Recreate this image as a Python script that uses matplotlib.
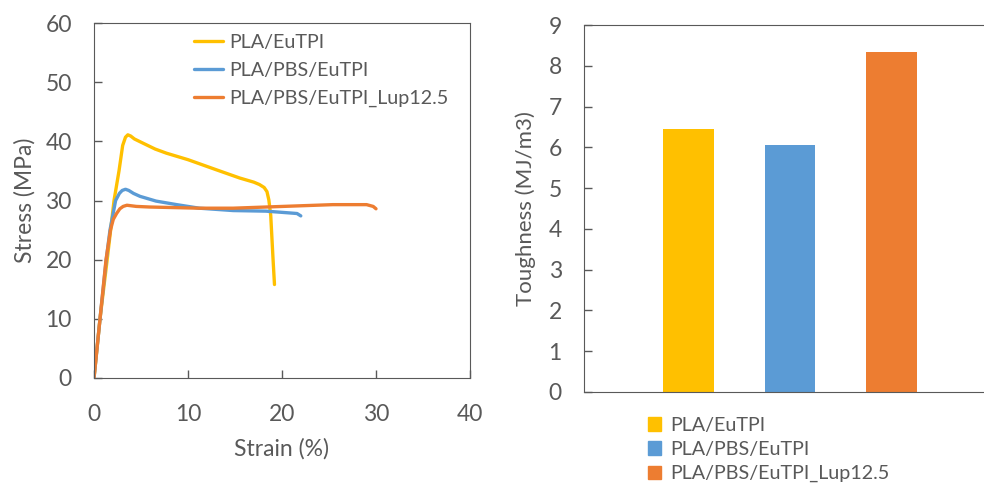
import numpy as np
import matplotlib
matplotlib.use("Agg")
import matplotlib.pyplot as plt
from matplotlib.patches import Patch

# Curvas tensão-deformação (leitura dos ensaios de tração)
strain_eutpi = [0, 0.64, 1.4, 1.77, 2.13, 2.66, 3.05, 3.35, 3.6, 3.9, 4.3, 5.2, 6.5, 7.7, 10.0, 13.0, 15.5, 17.0, 17.6, 18.1, 18.4, 18.6, 18.8, 18.9, 19.05, 19.2]
stress_eutpi = [0, 10, 20, 25, 30, 35, 39.3, 40.7, 41.1, 40.9, 40.4, 39.7, 38.7, 38.0, 36.9, 35.2, 33.8, 33.1, 32.7, 32.2, 31.5, 30.1, 27.5, 24.5, 20.0, 15.8]

strain_pbs = [0, 0.64, 1.3, 1.7, 2.3, 2.7, 3.0, 3.35, 3.7, 4.2, 4.9, 6.6, 8.8, 11.2, 14.8, 18.3, 20.8, 21.6, 22.0]
stress_pbs = [0, 10, 20, 25, 30, 31.2, 31.7, 31.9, 31.7, 31.2, 30.7, 29.9, 29.3, 28.7, 28.3, 28.2, 27.9, 27.8, 27.4]

strain_lup = [0, 0.64, 1.28, 1.75, 2.05, 2.4, 2.75, 3.1, 3.5, 4.5, 5.9, 11.2, 14.8, 20.1, 25.4, 29.0, 29.7, 30.0]
stress_lup = [0, 10, 20, 25, 26.8, 27.8, 28.6, 29.0, 29.2, 29.0, 28.9, 28.7, 28.7, 29.0, 29.3, 29.3, 29.0, 28.6]

# Tenacidade (MJ/m3)
amostras = ["PLA/EuTPI", "PLA/PBS/EuTPI", "PLA/PBS/EuTPI_Lup12.5"]
tenacidade = [6.45, 6.06, 8.33]
cores = ["#FFC000", "#5B9BD5", "#ED7D31"]

cinza = "#595959"
plt.rcParams['font.family'] = ['Lato', 'DejaVu Sans']
plt.rcParams['text.color'] = cinza
plt.rcParams['axes.labelcolor'] = cinza
plt.rcParams['axes.edgecolor'] = cinza

fig = plt.figure(figsize=(9.84, 4.83), dpi=100)

# Gráfico da esquerda: tensão x deformação
ax1 = fig.add_axes([94/984, 1 - 378/483, 376/984, 355/483])
curvas = [(strain_eutpi, stress_eutpi), (strain_pbs, stress_pbs), (strain_lup, stress_lup)]
for (x, y), cor, nome in zip(curvas, cores, amostras):
    ax1.plot(x, y, color=cor, lw=2.4, label=nome, solid_capstyle='round', solid_joinstyle='round')
ax1.set_xlim(0, 40)
ax1.set_ylim(0, 60)
ax1.set_xticks([0, 10, 20, 30, 40])
ax1.set_yticks(range(0, 61, 10))
ax1.tick_params(direction='in', length=6, width=1, colors=cinza, labelsize=16.5)
ax1.tick_params(axis='x', pad=19)
ax1.tick_params(axis='y', pad=16)
ax1.set_xlabel("Strain (%)", fontsize=16.5, labelpad=9)
ax1.set_ylabel("Stress (MPa)", fontsize=16.5, labelpad=7)
ax1.legend(loc='upper left', bbox_to_anchor=(194/984, 1 - 34/483), bbox_transform=fig.transFigure,
           frameon=False, fontsize=14.2, handlelength=1.45, handletextpad=0.36, labelspacing=0.55,
           borderpad=0, borderaxespad=0, labelcolor=cinza)

# Gráfico da direita: tenacidade
ax2 = fig.add_axes([584/984, 1 - 392/483, 412/984, 367/483])
pos = np.arange(len(tenacidade))
ax2.bar(pos, tenacidade, width=0.5, color=cores)
ax2.set_xlim(-1.02, 3.02)
ax2.set_ylim(0, 9)
ax2.set_yticks(range(0, 10))
ax2.set_xticks([])
ax2.tick_params(direction='in', length=6, width=1, colors=cinza, labelsize=16.5)
ax2.tick_params(axis='y', pad=16)
ax2.set_ylabel("Toughness (MJ/m3)", fontsize=16, labelpad=9)
handles = [Patch(color=c) for c in cores]
fig.legend(handles, amostras, loc='upper left', bbox_to_anchor=(648/984, 1 - 417/483),
           frameon=False, fontsize=14.2, handlelength=0.67, handleheight=0.67, handletextpad=0.45,
           labelspacing=0.36, borderpad=0, borderaxespad=0, labelcolor=cinza)

fig.savefig("out.png", dpi=100)
